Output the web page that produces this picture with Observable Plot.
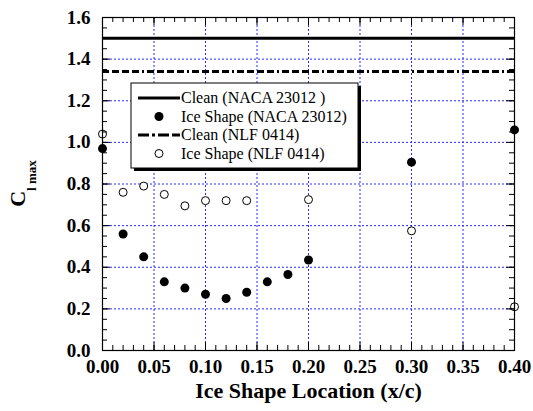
<!DOCTYPE html>
<html>
<head>
<meta charset="utf-8">
<script src="https://cdn.jsdelivr.net/npm/d3@7"></script>
<script src="https://cdn.jsdelivr.net/npm/@observablehq/plot@0.6"></script>
<style>
  html, body { margin: 0; padding: 0; background: #fff; }
  #chart { width: 533px; height: 411px; }
  #chart svg text, #chart svg tspan { font-family: "Liberation Serif", "Times New Roman", serif !important; }
</style>
</head>
<body>
<div id="chart"></div>
<script>
// Ice shape location along the chord (x/c)
const locationNaca = [0.00, 0.02, 0.04, 0.06, 0.08, 0.10, 0.12, 0.14, 0.16, 0.18, 0.20, 0.30, 0.40];
// Maximum lift coefficient with the ice shape, NACA 23012
const clmaxNaca = [0.97, 0.56, 0.45, 0.33, 0.30, 0.27, 0.25, 0.28, 0.33, 0.365, 0.435, 0.905, 1.06];

const locationNlf = [0.00, 0.02, 0.04, 0.06, 0.08, 0.10, 0.12, 0.14, 0.20, 0.30, 0.40];
// Maximum lift coefficient with the ice shape, NLF 0414
const clmaxNlf = [1.04, 0.76, 0.79, 0.75, 0.695, 0.72, 0.72, 0.72, 0.725, 0.575, 0.21];

// Clean-airfoil maximum lift
const cleanNaca = 1.50;
const cleanNlf = 1.34;

// Axis ticks
const xMajor = [0.00, 0.05, 0.10, 0.15, 0.20, 0.25, 0.30, 0.35, 0.40];
const yMajor = [0.0, 0.2, 0.4, 0.6, 0.8, 1.0, 1.2, 1.4, 1.6];
const xMinor = d3.range(0, 41).map(i => i / 100);
const yMinor = d3.range(0, 33).map(i => i * 0.05);

const legendLabels = ["Clean (NACA 23012 )", "Ice Shape (NACA 23012)", "Clean (NLF 0414)", "Ice Shape (NLF 0414)"];

const W = 533, H = 411;
const mL = 102, mR = 19, mT = 17, mB = 61;
const innerW = W - mL - mR, innerH = H - mT - mB;
const serif = "Liberation Serif, Times New Roman, serif";
const gridColor = "#2a2aff";
const dashDot = "7,3,7,3,7,3,7,3,2,3";

const nacaPts = locationNaca.map((x, i) => ({x, y: clmaxNaca[i]}));
const nlfPts = locationNlf.map((x, i) => ({x, y: clmaxNlf[i]}));

const chart = Plot.plot({
  width: W,
  height: H,
  marginLeft: mL,
  marginRight: mR,
  marginTop: mT,
  marginBottom: mB,
  style: {fontFamily: serif, background: "white", color: "black"},
  x: {domain: [0, 0.4]},
  y: {domain: [0, 1.6]},
  marks: [
    // dotted blue grid
    Plot.gridX(xMajor, {stroke: gridColor, strokeOpacity: 1, strokeDasharray: "2,2"}),
    Plot.gridY(yMajor, {stroke: gridColor, strokeOpacity: 1, strokeDasharray: "2,2"}),
    // clean airfoil reference lines
    Plot.ruleY([cleanNaca], {stroke: "black", strokeWidth: 3}),
    Plot.ruleY([cleanNlf], {stroke: "black", strokeWidth: 3, strokeDasharray: dashDot}),
    // iced airfoils
    Plot.dot(nacaPts, {x: "x", y: "y", r: 4.5, fill: "black", stroke: "none"}),
    Plot.dot(nlfPts, {x: "x", y: "y", r: 4, fill: "white", stroke: "black", strokeWidth: 1}),
    Plot.frame({stroke: "black", strokeWidth: 1.2}),
    // inward ticks on all four sides
    Plot.tickX(xMinor, {x: d => d, stroke: "black", insetTop: innerH - 5}),
    Plot.tickX(xMinor, {x: d => d, stroke: "black", insetBottom: innerH - 5}),
    Plot.tickX(xMajor, {x: d => d, stroke: "black", insetTop: innerH - 8}),
    Plot.tickX(xMajor, {x: d => d, stroke: "black", insetBottom: innerH - 8}),
    Plot.tickY(yMinor, {y: d => d, stroke: "black", insetRight: innerW - 5}),
    Plot.tickY(yMinor, {y: d => d, stroke: "black", insetLeft: innerW - 5}),
    Plot.tickY(yMajor, {y: d => d, stroke: "black", insetRight: innerW - 8}),
    Plot.tickY(yMajor, {y: d => d, stroke: "black", insetLeft: innerW - 8}),
    // tick labels
    Plot.axisX(xMajor, {tickSize: 0, tickPadding: 9, tickFormat: d3.format(".2f"), fontSize: 19, fontWeight: "bold", fill: "black", label: null}),
    Plot.axisY(yMajor, {tickSize: 0, tickPadding: 12, tickFormat: d3.format(".1f"), fontSize: 19, fontWeight: "bold", fill: "black", label: null}),
    // x-axis title
    Plot.text(["Ice Shape Location (x/c)"], {frameAnchor: "bottom", dy: 47, fontSize: 22, fontWeight: "bold", fill: "black"})
  ]
});

document.getElementById("chart").appendChild(chart);

const svg = d3.select(chart);

// y-axis title: C with subscript "l max"
const yTitle = svg.append("text")
  .attr("transform", `translate(25, ${mT + innerH / 2}) rotate(-90)`)
  .attr("text-anchor", "middle")
  .attr("font-weight", "bold")
  .attr("fill", "black");
yTitle.append("tspan").attr("font-size", 22).text("C");
yTitle.append("tspan").attr("font-size", 13).attr("dy", 11).text("l max");

// legend box with drop shadow
const lg = {x: 131, y: 83, w: 227, h: 85, row0: 103, step: 18.5};
const legend = svg.append("g").attr("text-anchor", "start");
legend.append("rect")
  .attr("x", lg.x + 3).attr("y", lg.y + 3).attr("width", lg.w).attr("height", lg.h)
  .attr("fill", "black");
legend.append("rect")
  .attr("x", lg.x).attr("y", lg.y).attr("width", lg.w).attr("height", lg.h)
  .attr("fill", "white").attr("stroke", "black").attr("stroke-width", 1);

legendLabels.forEach((label, i) => {
  const base = lg.row0 + i * lg.step;
  const cy = base - 5;
  if (i === 0 || i === 2) {
    legend.append("line")
      .attr("x1", lg.x + 7).attr("x2", lg.x + 49)
      .attr("y1", cy).attr("y2", cy)
      .attr("stroke", "black").attr("stroke-width", 3)
      .attr("stroke-dasharray", i === 2 ? "11,3,3,3,11,3" : null);
  } else {
    legend.append("circle")
      .attr("cx", lg.x + 28).attr("cy", cy)
      .attr("r", i === 1 ? 4.5 : 4)
      .attr("fill", i === 1 ? "black" : "white")
      .attr("stroke", i === 1 ? "none" : "black");
  }
  legend.append("text")
    .attr("x", lg.x + 50).attr("y", base)
    .attr("font-size", 16)
    .attr("fill", "black")
    .text(label);
});
</script>
</body>
</html>
